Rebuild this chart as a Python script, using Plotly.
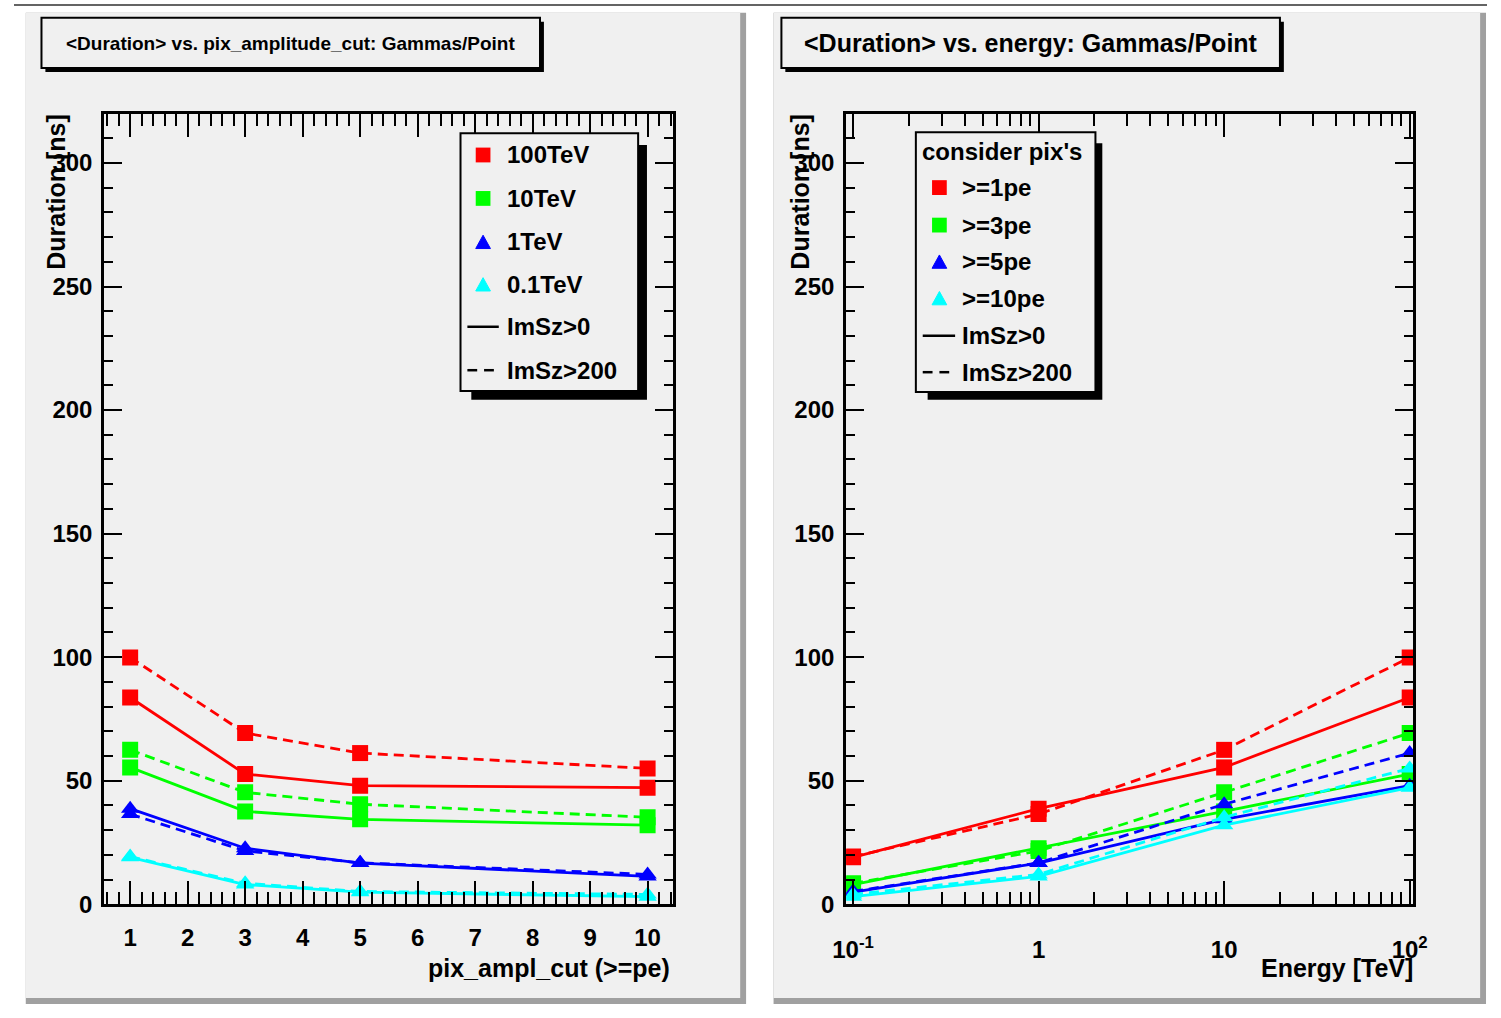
import plotly.graph_objects as go

W, H = 1501, 1018
FONT = "Liberation Sans"


def px(x):
    return x / W


def py(y):
    return 1 - y / H


# ---------------- data (mean duration in ns) ----------------
cuts_pe = [1, 3, 5, 10]            # pix_ampl_cut (>= pe)
energies_tev = [0.1, 1, 10, 100]   # Energy [TeV]

# ImSz>0, one value per pixel cut (1, 3, 5, 10 pe)
dur_100tev_all = [83.7, 52.7, 48.0, 47.2]
dur_10tev_all = [55.4, 37.6, 34.4, 32.0]
dur_1tev_all = [38.7, 22.7, 16.7, 11.3]
dur_01tev_all = [19.0, 8.0, 4.9, 3.1]

# ImSz>200
dur_100tev_big = [99.9, 69.3, 61.2, 55.0]
dur_10tev_big = [62.5, 45.3, 40.5, 35.2]
dur_1tev_big = [36.5, 21.6, 16.8, 12.1]
dur_01tev_big = [19.3, 8.5, 5.2, 4.0]

energy_labels = ["100TeV", "10TeV", "1TeV", "0.1TeV"]
cut_labels = [">=1pe", ">=3pe", ">=5pe", ">=10pe"]
y_tick_vals = [0, 50, 100, 150, 200, 250, 300]
x1_tick_vals = [1, 2, 3, 4, 5, 6, 7, 8, 9, 10]
x2_tick_vals = [0.1, 1, 10, 100]
x2_tick_text = ["10<sup>-1</sup>", "1", "10", "10<sup>2</sup>"]

colors = ["#ff0000", "#00ff00", "#0000ff", "#00ffff"]
symbols = ["square", "square", "triangle-up", "triangle-up"]

by_energy_all = [dur_100tev_all, dur_10tev_all, dur_1tev_all, dur_01tev_all]
by_energy_big = [dur_100tev_big, dur_10tev_big, dur_1tev_big, dur_01tev_big]
# energy order of the right plot x axis (0.1, 1, 10, 100 TeV)
energy_order = [dur_01tev_all, dur_1tev_all, dur_10tev_all, dur_100tev_all]
energy_order_big = [dur_01tev_big, dur_1tev_big, dur_10tev_big, dur_100tev_big]

fig = go.Figure()

LW = 2.8
MS = 16
DASH = "10px,6px"

# left plot: duration vs pixel cut, one colour per energy
for i in range(4):
    fig.add_trace(go.Scatter(
        x=cuts_pe, y=by_energy_big[i], mode="lines+markers",
        line=dict(color=colors[i], width=LW, dash=DASH),
        marker=dict(symbol=symbols[i], size=MS, color=colors[i]),
        xaxis="x", yaxis="y", showlegend=False, name=energy_labels[i] + " ImSz>200"))
    fig.add_trace(go.Scatter(
        x=cuts_pe, y=by_energy_all[i], mode="lines+markers",
        line=dict(color=colors[i], width=LW),
        marker=dict(symbol=symbols[i], size=MS, color=colors[i]),
        xaxis="x", yaxis="y", showlegend=False, name=energy_labels[i] + " ImSz>0"))

# right plot: duration vs energy, one colour per pixel cut
for c in range(4):
    y_all = [series[c] for series in energy_order]
    y_big = [series[c] for series in energy_order_big]
    fig.add_trace(go.Scatter(
        x=energies_tev, y=y_big, mode="lines+markers",
        line=dict(color=colors[c], width=LW, dash=DASH),
        marker=dict(symbol=symbols[c], size=MS, color=colors[c]),
        xaxis="x2", yaxis="y2", showlegend=False, name=cut_labels[c] + " ImSz>200"))
    fig.add_trace(go.Scatter(
        x=energies_tev, y=y_all, mode="lines+markers",
        line=dict(color=colors[c], width=LW),
        marker=dict(symbol=symbols[c], size=MS, color=colors[c]),
        xaxis="x2", yaxis="y2", showlegend=False, name=cut_labels[c] + " ImSz>0"))

tickfont = dict(family=FONT, size=24, color="black", weight="bold")
common = dict(showline=True, linecolor="black", linewidth=3, mirror="ticks",
              ticks="inside", tickcolor="black", tickwidth=2,
              showgrid=False, zeroline=False, tickfont=tickfont)

ydom = [py(916), py(115)]
fig.update_layout(
    xaxis=dict(domain=[px(92), px(672)], range=[0.55, 10.45], tickvals=x1_tick_vals,
               ticklen=23, anchor="y", ticklabelstandoff=10,
               minor=dict(dtick=0.2, tick0=0, ticks="inside", ticklen=12,
                          tickcolor="black", tickwidth=2, showgrid=False),
               **common),
    yaxis=dict(domain=ydom, range=[0, 320], tickvals=y_tick_vals, ticklen=18,
               anchor="x", ticklabelstandoff=4,
               minor=dict(dtick=10, tick0=0, ticks="inside", ticklen=9,
                          tickcolor="black", tickwidth=2, showgrid=False),
               **common),
    xaxis2=dict(domain=[px(848), px(1426)], type="log", range=[-1.037, 2.02],
                tickvals=x2_tick_vals, ticktext=x2_tick_text, ticklen=23,
                anchor="y2", ticklabelstandoff=22,
                minor=dict(tickvals=[m * 10 ** e for e in (-1, 0, 1) for m in range(2, 10)],
                           ticks="inside", ticklen=12, tickcolor="black",
                           tickwidth=2, showgrid=False),
                **common),
    yaxis2=dict(domain=ydom, range=[0, 320], tickvals=y_tick_vals, ticklen=18,
                anchor="x2", ticklabelstandoff=4,
                minor=dict(dtick=10, tick0=0, ticks="inside", ticklen=9,
                           tickcolor="black", tickwidth=2, showgrid=False),
                **common),
)

shapes = []
annotations = []


def rect(x0, y0, x1, y1, fill, line_color=None, lw=0, layer="below"):
    shapes.append(dict(type="rect", xref="paper", yref="paper",
                       x0=px(x0), x1=px(x1), y0=py(y1), y1=py(y0),
                       fillcolor=fill, layer=layer,
                       line=dict(color=line_color or fill, width=lw)))


def seg(x0, y0, x1, y1, color="black", lw=2.5, layer="above"):
    shapes.append(dict(type="line", xref="paper", yref="paper",
                       x0=px(x0), x1=px(x1), y0=py(y0), y1=py(y1), layer=layer,
                       line=dict(color=color, width=lw)))


def square(cx, cy, s, color):
    rect(cx - s / 2, cy - s / 2, cx + s / 2, cy + s / 2, color, layer="above")


def triangle(cx, cy, s, color):
    h = s * 0.9
    pts = [(cx - s / 2, cy + h / 2), (cx + s / 2, cy + h / 2), (cx, cy - h / 2)]
    path = "M " + " L ".join(f"{px(x):.5f},{py(y):.5f}" for x, y in pts) + " Z"
    shapes.append(dict(type="path", xref="paper", yref="paper", path=path,
                       fillcolor=color, line=dict(color=color, width=1), layer="above"))


def text(x, y, s, size, xanchor="left", yanchor="middle", bold=True, angle=0):
    annotations.append(dict(x=px(x), y=py(y), xref="paper", yref="paper", text=s,
                            showarrow=False, xanchor=xanchor, yanchor=yanchor,
                            textangle=angle,
                            font=dict(family=FONT, size=size, color="black",
                                      weight="bold" if bold else "normal")))


# page: top rule and the two grey pads with bevelled borders
seg(0, 5, W, 5, color="#303030", lw=1.5, layer="below")
for (x0, x1) in [(12, 746), (774, 1500)]:
    rect(x0, 13, x1, 1017, "#a0a0a0")
    rect(x0, 13, x1 - 6, 1011, "#f0f0f0")

# title boxes with shadows
for (x0, x1, title, fs) in [(28, 536, "&lt;Duration&gt; vs. pix_amplitude_cut: Gammas/Point", 19),
                            (782, 1290, "&lt;Duration&gt; vs. energy: Gammas/Point", 25)]:
    rect(x0 + 4, 22, x1 + 4, 73, "black", layer="above")
    rect(x0, 18, x1, 69, "#f0f0f0", line_color="black", lw=2, layer="above")
    text((x0 + x1) / 2, 44, title, fs, xanchor="center", bold=True)

# axis titles
text(42, 113, "Duration [ns]", 25, xanchor="center", yanchor="top", angle=-90)
text(800, 113, "Duration [ns]", 25, xanchor="center", yanchor="top", angle=-90)
text(671, 981, "pix_ampl_cut (&gt;=pe)", 25, xanchor="right")
text(1428, 981, "Energy [TeV]", 25, xanchor="right")

# left legend
rect(466, 147, 645, 405, "black", layer="above")
rect(455, 135, 636, 396, "#f0f0f0", line_color="black", lw=2, layer="above")
left_rows = [157, 201, 245, 288, 331, 375]
for i in range(4):
    if symbols[i] == "square":
        square(478, left_rows[i], 15, colors[i])
    else:
        triangle(478, left_rows[i], 15, colors[i])
    text(500, left_rows[i], energy_labels[i], 24)
seg(462, left_rows[4], 494, left_rows[4])
seg(462, left_rows[5], 472, left_rows[5])
seg(479, left_rows[5], 489, left_rows[5])
text(500, left_rows[4], "ImSz&gt;0", 24)
text(500, left_rows[5], "ImSz&gt;200", 24)

# right legend
rect(931, 145, 1109, 405, "black", layer="above")
rect(919, 134, 1102, 397, "#f0f0f0", line_color="black", lw=2, layer="above")
text(923, 153, "consider pix's", 24)
right_rows = [190, 228, 265, 302, 340, 377]
for i in range(4):
    if symbols[i] == "square":
        square(943, right_rows[i], 15, colors[i])
    else:
        triangle(943, right_rows[i], 15, colors[i])
    text(964, right_rows[i], cut_labels[i].replace(">", "&gt;"), 24)
seg(926, right_rows[4], 959, right_rows[4])
seg(926, right_rows[5], 936, right_rows[5])
seg(943, right_rows[5], 953, right_rows[5])
text(964, right_rows[4], "ImSz&gt;0", 24)
text(964, right_rows[5], "ImSz&gt;200", 24)

fig.update_layout(
    width=W, height=H, autosize=False,
    margin=dict(l=0, r=0, t=0, b=0, pad=0),
    paper_bgcolor="white", plot_bgcolor="rgba(0,0,0,0)",
    shapes=shapes, annotations=annotations, showlegend=False,
)

fig.write_html("out.html")
